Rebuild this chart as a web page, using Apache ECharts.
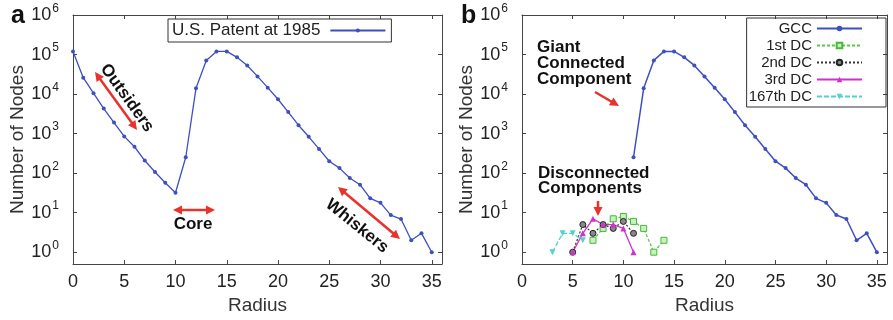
<!DOCTYPE html>
<html>
<head>
<meta charset="utf-8">
<script src="https://cdn.jsdelivr.net/npm/echarts@6/dist/echarts.min.js"></script>
<style>
html,body{margin:0;padding:0;background:#fff;}
#chart{width:893px;height:320px;}
</style>
</head>
<body>
<div id="chart"></div>
<script>
// ---- data ----
const radiusA = [0,1,2,3,4,5,6,7,8,9,10,11,12,13,14,15,16,17,18,19,20,21,22,23,24,25,26,27,28,29,30,31,32,33,34,35];
const patent1985 = [120000,26000,10500,4300,1900,850,465,208,107,57,32,252,14000,71000,120000,120000,85000,53000,28000,14500,7400,3500,1630,830,410,200,134,75,51,23,17.7,8.7,6.9,2,3,1];

const radiusGCC = [11,12,13,14,15,16,17,18,19,20,21,22,23,24,25,26,27,28,29,30,31,32,33,34,35];
const gccValues = [252,14000,71000,120000,120000,85000,53000,28000,14500,7400,3500,1630,830,410,200,134,75,51,23,17.7,8.7,6.9,2,3,1];

const radiusDC1 = [7,8,9,10,11,12,13,14];
const dc1Values = [2,4,7,8,6,4,1,2];
const radiusDC2 = [5,6,7,8,9,10,11];
const dc2Values = [1,5,3,5,4,6,3];
const radiusDC3 = [5,6,7,8,9,10,11];
const dc3Values = [1,3,7,5,5,4,1];
const radiusDC167 = [3,4,5,6];
const dc167Values = [1,3,3,2];

const xTicks = [0,5,10,15,20,25,30,35];
const yTicks = [1,10,100,1000,10000,100000,1000000];

const seriesNames = ['GCC','1st DC','2nd DC','3rd DC','167th DC'];

// ---- helpers ----
const pairs = (xs, ys) => xs.map((x, i) => [x, ys[i]]);
const FONT = 'Liberation Sans, Arial, sans-serif';
const AX = '#444';
const BLUE = '#3d4fc2';

function yLabel(v) {
  const e = Math.round(Math.log10(v));
  if (Math.abs(Math.log10(v) - e) > 1e-6) return '';
  return '{b|10}{e|' + e + '}';
}
const yRich = {
  b: {fontSize: 18, fontFamily: FONT, color: '#222'},
  e: {fontSize: 12, fontFamily: FONT, color: '#222', padding: [0, 0, 13, 1]}
};

function xAxisMain(gi) {
  return {
    type: 'value', gridIndex: gi, min: 0, max: 36, interval: 5,
    name: 'Radius', nameLocation: 'middle', nameGap: 31,
    nameTextStyle: {fontSize: 19, fontFamily: FONT, color: '#333'},
    axisLine: {show: true, onZero: false, lineStyle: {color: AX, width: 1}},
    axisTick: {inside: true, length: 4, lineStyle: {color: AX}},
    axisLabel: {fontSize: 18, fontFamily: FONT, color: '#222', margin: 9, showMaxLabel: false,
      formatter: v => xTicks.includes(v) ? String(v) : ''},
    splitLine: {show: false}
  };
}
function xAxisMirror(gi) {
  return {
    type: 'value', gridIndex: gi, min: 0, max: 36, interval: 5, position: 'top',
    axisLine: {show: true, onZero: false, lineStyle: {color: AX, width: 1}},
    axisTick: {inside: true, length: 4, lineStyle: {color: AX}},
    axisLabel: {show: false}, splitLine: {show: false}
  };
}
function yAxisMain(gi) {
  return {
    type: 'log', logBase: 10, gridIndex: gi, min: 0.5, max: 1000000, splitNumber: 6,
    name: 'Number of Nodes', nameLocation: 'middle', nameGap: 45,
    nameTextStyle: {fontSize: 19, fontFamily: FONT, color: '#333'},
    axisLine: {show: true, onZero: false, lineStyle: {color: AX, width: 1}},
    axisTick: {inside: true, length: 4, lineStyle: {color: AX}},
    axisLabel: {margin: 14, showMinLabel: false, formatter: yLabel, rich: yRich},
    minorTick: {show: false},
    splitLine: {show: false}
  };
}
function yAxisMirror(gi) {
  return {
    type: 'log', logBase: 10, gridIndex: gi, min: 0.5, max: 1000000, splitNumber: 6, position: 'right',
    axisLine: {show: true, onZero: false, lineStyle: {color: AX, width: 1}},
    axisTick: {inside: true, length: 4, lineStyle: {color: AX}},
    axisLabel: {show: false}, splitLine: {show: false}
  };
}

function arrowEls(x1, y1, x2, y2, both, color) {
  const els = [];
  const ang = Math.atan2(y2 - y1, x2 - x1);
  const hl = 9, hw = 4.5;
  function head(px, py, a) {
    const bx = px - hl * Math.cos(a), by = py - hl * Math.sin(a);
    const nx = -Math.sin(a) * hw, ny = Math.cos(a) * hw;
    return {type: 'polygon', shape: {points: [[px, py], [bx + nx, by + ny], [bx - nx, by - ny]]},
      style: {fill: color}, z: 100};
  }
  const sx = both ? x1 + (hl - 2) * Math.cos(ang) : x1, sy = both ? y1 + (hl - 2) * Math.sin(ang) : y1;
  const ex = x2 - (hl - 2) * Math.cos(ang), ey = y2 - (hl - 2) * Math.sin(ang);
  els.push({type: 'line', shape: {x1: sx, y1: sy, x2: ex, y2: ey}, style: {stroke: color, lineWidth: 2.5}, z: 100});
  els.push(head(x2, y2, ang));
  if (both) els.push(head(x1, y1, ang + Math.PI));
  return els;
}
const RED = '#e8322b';
const boldText = (text, x, y, rot, extra) => Object.assign({
  type: 'text', x: x, y: y, rotation: rot || 0, z: 100,
  style: Object.assign({text: text, font: 'bold 17px ' + FONT, fill: '#111', align: 'center', verticalAlign: 'middle'}, extra || {})
});

const graphics = [
  {type: 'text', left: 11, top: 4, style: {text: 'a', font: 'bold 25px ' + FONT, fill: '#111'}},
  {type: 'text', left: 461, top: 4, style: {text: 'b', font: 'bold 25px ' + FONT, fill: '#111'}},
  boldText('Outsiders', 127, 98, -0.95),
  ...arrowEls(95, 72, 137, 130, true, RED),
  boldText('Core', 193, 224, 0),
  ...arrowEls(173, 210, 215, 210, true, RED),
  boldText('Whiskers', 357, 226, -0.68),
  ...arrowEls(338, 187, 400, 239, true, RED),
  boldText('Giant\nConnected\nComponent', 537, 63, 0, {align: 'left', lineHeight: 16}),
  ...arrowEls(595, 92, 619, 106, false, RED),
  boldText('Disconnected\nComponents', 538, 181, 0, {align: 'left', lineHeight: 15}),
  ...arrowEls(598, 201, 598, 216, false, RED)
];

const option = {
  backgroundColor: '#fff',
  animation: false,
  grid: [
    {left: 73, right: 451, top: 15, bottom: 54, containLabel: false},
    {left: 522, right: 6, top: 15, bottom: 54, containLabel: false}
  ],
  xAxis: [xAxisMain(0), xAxisMirror(0), xAxisMain(1), xAxisMirror(1)],
  yAxis: [yAxisMain(0), yAxisMirror(0), yAxisMain(1), yAxisMirror(1)],
  legend: [
    {
      data: ['U.S. Patent at 1985'], left: 168, top: 19, align: 'right',
      itemWidth: 55, itemHeight: 5, padding: [3, 5, 3, 4],
      borderColor: '#333', borderWidth: 1, borderRadius: 0,
      textStyle: {fontSize: 17, fontFamily: FONT, color: '#222', padding: [0, 5, 0, 0]}
    },
    {
      data: seriesNames, orient: 'vertical', right: 7, top: 18, align: 'right',
      itemWidth: 45, itemHeight: 7, itemGap: 2, padding: [3, 23, 3, 2],
      borderColor: '#333', borderWidth: 1, borderRadius: 0,
      textStyle: {fontSize: 15, fontFamily: FONT, color: '#222', lineHeight: 15}
    }
  ],
  series: [
    {name: 'U.S. Patent at 1985', type: 'line', xAxisIndex: 0, yAxisIndex: 0,
      data: pairs(radiusA, patent1985), symbol: 'circle', symbolSize: 4,
      lineStyle: {color: BLUE, width: 1.3}, itemStyle: {color: BLUE}},
    {name: 'GCC', type: 'line', xAxisIndex: 2, yAxisIndex: 2,
      data: pairs(radiusGCC, gccValues), symbol: 'circle', symbolSize: 4,
      lineStyle: {color: BLUE, width: 1.5}, itemStyle: {color: BLUE}},
    {name: '1st DC', type: 'line', xAxisIndex: 2, yAxisIndex: 2,
      data: pairs(radiusDC1, dc1Values), symbol: 'rect', symbolSize: 6,
      lineStyle: {color: '#55cc44', width: 1.3, type: [3, 2]},
      itemStyle: {color: '#c9f0c0', borderColor: '#44bb33', borderWidth: 1}},
    {name: '2nd DC', type: 'line', xAxisIndex: 2, yAxisIndex: 2,
      data: pairs(radiusDC2, dc2Values), symbol: 'circle', symbolSize: 6,
      lineStyle: {color: '#333', width: 1.2, type: [2, 2]},
      itemStyle: {color: '#888', borderColor: '#222', borderWidth: 1}},
    {name: '3rd DC', type: 'line', xAxisIndex: 2, yAxisIndex: 2,
      data: pairs(radiusDC3, dc3Values), symbol: 'triangle', symbolSize: 6,
      lineStyle: {color: '#cc33cc', width: 1.3},
      itemStyle: {color: '#cc33cc'}},
    {name: '167th DC', type: 'line', xAxisIndex: 2, yAxisIndex: 2,
      data: pairs(radiusDC167, dc167Values), symbol: 'triangle', symbolRotate: 180, symbolSize: 6,
      lineStyle: {color: '#55d0d0', width: 1.3, type: [5, 2]},
      itemStyle: {color: '#55d0d0'}}
  ],
  graphic: graphics
};

const chart = echarts.init(document.getElementById('chart'), null, {renderer: 'canvas'});
chart.setOption(option);
</script>
</body>
</html>
